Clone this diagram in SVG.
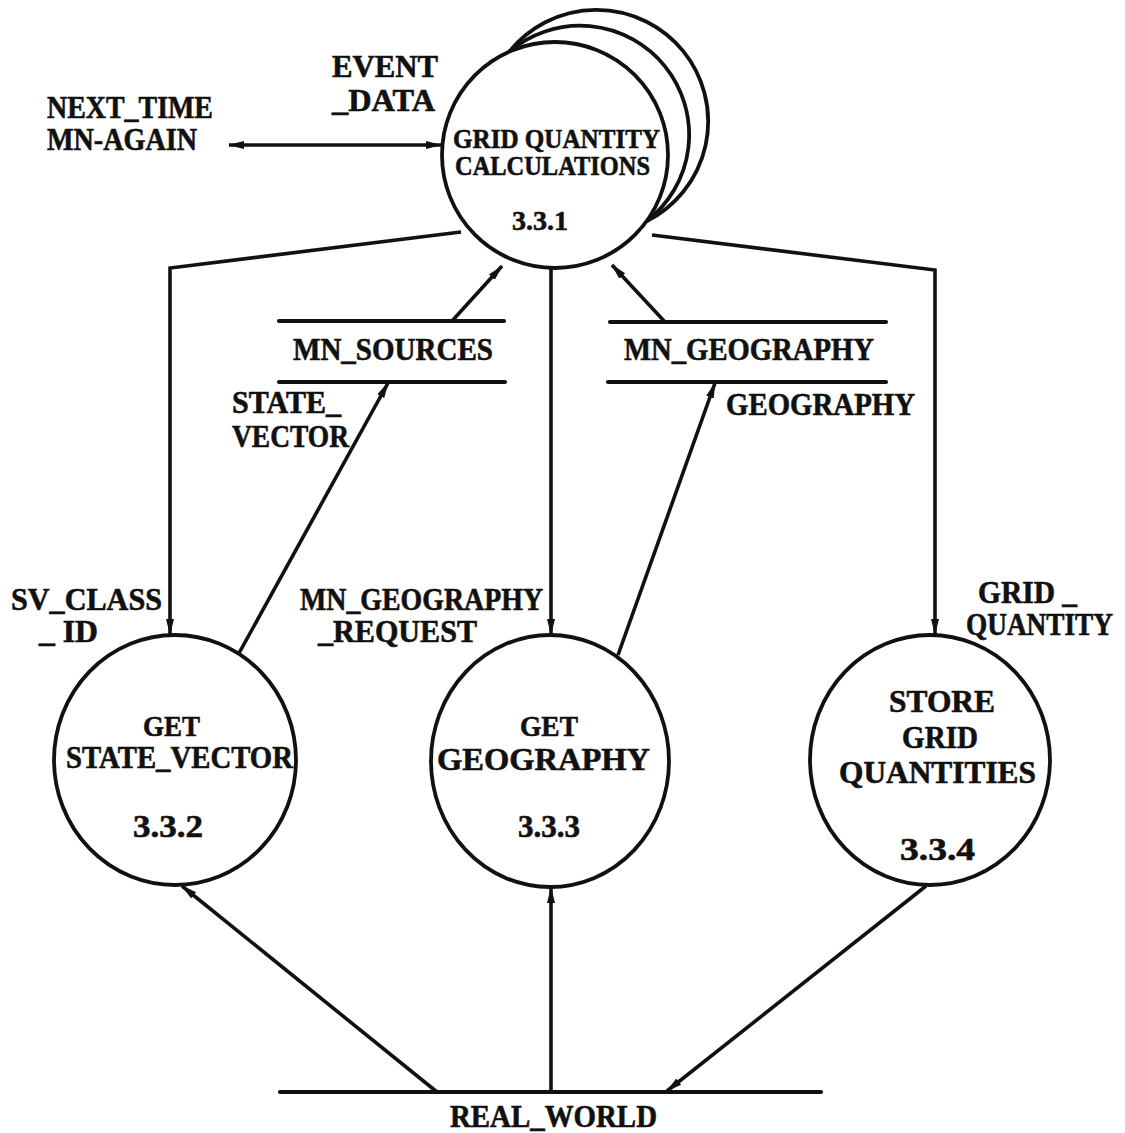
<svg xmlns="http://www.w3.org/2000/svg" width="1125" height="1133" viewBox="0 0 1125 1133">
  <defs>
    <style>
      .t { font-family: "Liberation Serif", "DejaVu Serif", serif; font-weight: bold; font-size: 31px; fill: #111; stroke: #111; stroke-width: 0.6px; }
      .ts { font-size: 28px; }
      .tb { font-size: 30px; }
      .bubble { fill: #fff; stroke: #111; stroke-width: 3.8; }
      .arc { fill: none; stroke: #111; stroke-width: 3.8; }
      .store { stroke: #111; stroke-width: 4.2; stroke-linecap: round; }
      .flow { fill: none; stroke: #111; stroke-width: 3.6; }
    </style>
    <marker id="ah" markerWidth="16" markerHeight="10" refX="15" refY="5" orient="auto" markerUnits="userSpaceOnUse">
      <path d="M0,1 L16,5 L0,9 z" fill="#111"/>
    </marker>
    <marker id="ahs" markerWidth="16" markerHeight="10" refX="1" refY="5" orient="auto" markerUnits="userSpaceOnUse">
      <path d="M16,1 L0,5 L16,9 z" fill="#111"/>
    </marker>
  </defs>
  <rect width="1125" height="1133" fill="#fff"/>

  <!-- data flows -->
  <g id="connectors">
    <line class="flow" x1="229" y1="145" x2="441" y2="145" marker-start="url(#ahs)" marker-end="url(#ah)"/>
    <polyline class="flow" points="461,232 170,268 170,634" marker-end="url(#ah)"/>
    <line class="flow" x1="551" y1="268" x2="551" y2="634" marker-end="url(#ah)"/>
    <polyline class="flow" points="652,235 935,270 935,634" marker-end="url(#ah)"/>
    <line class="flow" x1="452" y1="321" x2="502" y2="266" marker-end="url(#ah)"/>
    <line class="flow" x1="665" y1="322" x2="612" y2="265" marker-end="url(#ah)"/>
    <line class="flow" x1="238" y1="655" x2="388" y2="383" marker-end="url(#ah)"/>
    <line class="flow" x1="618" y1="655" x2="715" y2="383" marker-end="url(#ah)"/>
    <line class="flow" x1="437" y1="1092" x2="182" y2="886" marker-end="url(#ah)"/>
    <line class="flow" x1="551" y1="1092" x2="551" y2="888" marker-end="url(#ah)"/>
    <line class="flow" x1="926" y1="886" x2="667" y2="1091" marker-end="url(#ah)"/>
  </g>

  <!-- flow labels -->
  <g id="flow-labels">
    <text class="t" x="332" y="77" textLength="106" lengthAdjust="spacingAndGlyphs">EVENT</text>
    <text class="t" x="332" y="111" textLength="103" lengthAdjust="spacingAndGlyphs">_DATA</text>
    <text class="t" x="47" y="118" textLength="166" lengthAdjust="spacingAndGlyphs">NEXT_TIME</text>
    <text class="t" x="47" y="150" textLength="150" lengthAdjust="spacingAndGlyphs">MN-AGAIN</text>
    <text class="t" x="232" y="413" textLength="109" lengthAdjust="spacingAndGlyphs">STATE_</text>
    <text class="t" x="232" y="447" textLength="117" lengthAdjust="spacingAndGlyphs">VECTOR</text>
    <text class="t" x="726" y="415" textLength="189" lengthAdjust="spacingAndGlyphs">GEOGRAPHY</text>
    <text class="t" x="11" y="610" textLength="151" lengthAdjust="spacingAndGlyphs">SV_CLASS</text>
    <text class="t" x="39" y="642" textLength="59" lengthAdjust="spacingAndGlyphs">_ ID</text>
    <text class="t" x="300" y="610" textLength="243" lengthAdjust="spacingAndGlyphs">MN_GEOGRAPHY</text>
    <text class="t" x="318" y="642" textLength="159" lengthAdjust="spacingAndGlyphs">_REQUEST</text>
    <text class="t" x="978" y="603" textLength="99" lengthAdjust="spacingAndGlyphs">GRID _</text>
    <text class="t" x="966" y="635" textLength="147" lengthAdjust="spacingAndGlyphs">QUANTITY</text>
  </g>

  <!-- process 3.3.1 (multiple instances) -->
  <g id="p331">
    <path class="arc" d="M509,52 A111.7,111.7 0 1 1 646.4,221.4"/>
    <path class="arc" d="M509,52 A109.1,109.1 0 1 1 646.4,221.4"/>
    <circle class="bubble" cx="555" cy="155" r="113"/>
    <text class="t ts" x="453" y="148" textLength="207" lengthAdjust="spacingAndGlyphs">GRID QUANTITY</text>
    <text class="t ts" x="455" y="175" textLength="195" lengthAdjust="spacingAndGlyphs">CALCULATIONS</text>
    <text class="t ts" x="512" y="230" textLength="56" lengthAdjust="spacingAndGlyphs">3.3.1</text>
  </g>

  <!-- data stores -->
  <g id="mn-sources">
    <line class="store" x1="279" y1="321" x2="504" y2="321"/>
    <line class="store" x1="279" y1="382" x2="505" y2="382"/>
    <text class="t" x="293" y="360" textLength="200" lengthAdjust="spacingAndGlyphs">MN_SOURCES</text>
  </g>
  <g id="mn-geography">
    <line class="store" x1="610" y1="322" x2="886" y2="322"/>
    <line class="store" x1="608" y1="382" x2="886" y2="382"/>
    <text class="t" x="624" y="360" textLength="250" lengthAdjust="spacingAndGlyphs">MN_GEOGRAPHY</text>
  </g>

  <!-- process 3.3.2 -->
  <g id="p332">
    <ellipse class="bubble" cx="175" cy="760" rx="121" ry="125"/>
    <text class="t tb" x="143" y="736" textLength="57" lengthAdjust="spacingAndGlyphs">GET</text>
    <text class="t" x="66" y="768" textLength="227" lengthAdjust="spacingAndGlyphs">STATE_VECTOR</text>
    <text class="t" x="133" y="837" textLength="70" lengthAdjust="spacingAndGlyphs">3.3.2</text>
  </g>

  <!-- process 3.3.3 -->
  <g id="p333">
    <ellipse class="bubble" cx="550" cy="761" rx="119" ry="126"/>
    <text class="t tb" x="520" y="736" textLength="58" lengthAdjust="spacingAndGlyphs">GET</text>
    <text class="t" x="437" y="770" textLength="213" lengthAdjust="spacingAndGlyphs">GEOGRAPHY</text>
    <text class="t" x="518" y="837" textLength="62" lengthAdjust="spacingAndGlyphs">3.3.3</text>
  </g>

  <!-- process 3.3.4 -->
  <g id="p334">
    <ellipse class="bubble" cx="930" cy="760" rx="120" ry="125"/>
    <text class="t" x="889" y="712" textLength="106" lengthAdjust="spacingAndGlyphs">STORE</text>
    <text class="t" x="902" y="748" textLength="76" lengthAdjust="spacingAndGlyphs">GRID</text>
    <text class="t" x="839" y="783" textLength="197" lengthAdjust="spacingAndGlyphs">QUANTITIES</text>
    <text class="t" x="900" y="860" textLength="75" lengthAdjust="spacingAndGlyphs">3.3.4</text>
  </g>

  <!-- terminator -->
  <g id="real-world">
    <line class="store" x1="280" y1="1092" x2="821" y2="1092"/>
    <text class="t" x="450" y="1127" textLength="207" lengthAdjust="spacingAndGlyphs">REAL_WORLD</text>
  </g>
</svg>
